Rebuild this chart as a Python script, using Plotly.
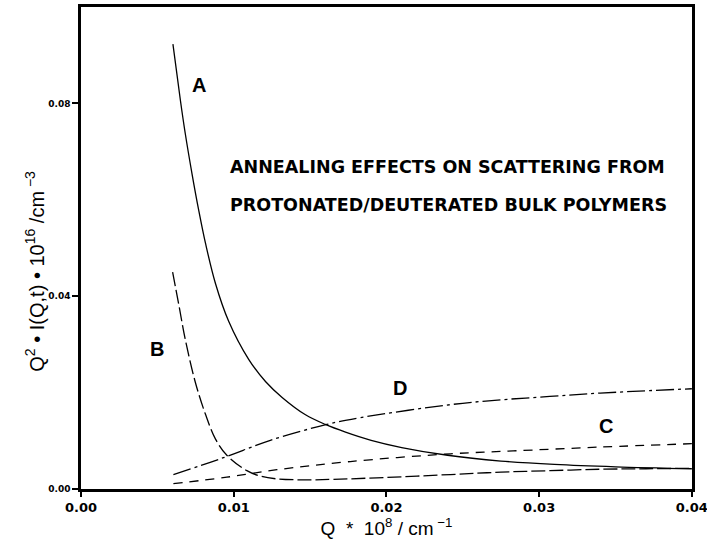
import plotly.graph_objects as go

# ---- data ----
a_x = [0.00602, 0.00651, 0.00683, 0.00727, 0.00771, 0.00815, 0.00880, 0.00967, 0.01098,
       0.01208, 0.01317, 0.0147, 0.0160, 0.01732, 0.0190, 0.0210, 0.0240, 0.0275,
       0.0310, 0.0350, 0.0400]
a_y = [0.0923, 0.0806, 0.0737, 0.0654, 0.0578, 0.0510, 0.0427, 0.0348, 0.0269,
       0.0223, 0.0190, 0.0154, 0.0134, 0.0118, 0.0101, 0.0086, 0.0070, 0.0058,
       0.0051, 0.0046, 0.0042]

b_x = [0.0060, 0.0064, 0.00683, 0.00749, 0.00815, 0.0088, 0.00955, 0.01086, 0.01172,
       0.01282, 0.0145, 0.0165, 0.0200, 0.0242, 0.0275, 0.0307, 0.0340, 0.0370, 0.0400]
b_y = [0.0450, 0.0383, 0.0310, 0.0221, 0.0155, 0.0104, 0.0070, 0.0038, 0.0027,
       0.0021, 0.0019, 0.0020, 0.0024, 0.0030, 0.0035, 0.0038, 0.0041, 0.0042, 0.0043]

c_x = [0.00605, 0.00955, 0.01283, 0.01764, 0.0242, 0.0283, 0.0340, 0.0400]
c_y = [0.0011, 0.00245, 0.0040, 0.0057, 0.0073, 0.0079, 0.0087, 0.0094]

d_x = [0.00605, 0.00933, 0.0124, 0.0161, 0.01829, 0.0242, 0.0275, 0.0307, 0.0340, 0.0400]
d_y = [0.0030, 0.0065, 0.0101, 0.0134, 0.0148, 0.0175, 0.0185, 0.0192, 0.0199, 0.0208]

curve_labels = ["A", "B", "C", "D"]
label_x = [0.0077, 0.0050, 0.03435, 0.0209]
label_y = [0.0838, 0.0290, 0.0130, 0.0210]

x_ticks = [0.00, 0.01, 0.02, 0.03, 0.04]
x_tick_text = ["0.00", "0.01", "0.02", "0.03", "0.04"]
y_ticks = [0.00, 0.04, 0.08]
y_tick_text = ["0.00", "0.04", "0.08"]

title_lines = ["ANNEALING EFFECTS ON SCATTERING FROM",
               "PROTONATED/DEUTERATED BULK POLYMERS"]
title_y = [0.0668, 0.0589]
title_x = 0.00965

y_title = "Q<sup>2</sup> • I(Q,t) • 10<sup>16</sup> /cm<sup> −3</sup>"
x_title = "Q  *  10<sup>8</sup> / cm<sup> −1</sup>"

fig = go.Figure()
styles = [
    (a_x, a_y, "solid"),
    (b_x, b_y, "14px,4px"),
    (c_x, c_y, "9px,7px"),
    (d_x, d_y, "18px,4px,3px,4px"),
]
for (xs, ys, dash), name in zip(styles, curve_labels):
    fig.add_trace(go.Scatter(
        x=xs, y=ys, mode="lines", name=name, showlegend=False,
        line=dict(color="black", width=1.3, dash=dash, shape="spline", smoothing=1.0),
    ))

for t, lx, ly in zip(curve_labels, label_x, label_y):
    fig.add_annotation(x=lx, y=ly, text=t, showarrow=False,
                       font=dict(family="Liberation Sans", size=20, color="black", weight="bold"))

for t, ty in zip(title_lines, title_y):
    fig.add_annotation(x=title_x, y=ty, text=t, showarrow=False, xanchor="left",
                       font=dict(family="DejaVu Sans", size=17.5, color="black", weight="bold"))

# rotated y-axis title, placed like the reference
fig.add_annotation(xref="paper", yref="paper", x=-0.076, y=0.452, text=y_title,
                   textangle=-90, showarrow=False, xanchor="center", yanchor="middle",
                   font=dict(family="Liberation Sans", size=20, color="black"))

fig.update_layout(
    width=707, height=539,
    margin=dict(l=81, r=15, t=7, b=50, autoexpand=False),
    paper_bgcolor="white", plot_bgcolor="white",
    font=dict(family="Liberation Sans", color="black"),
)
fig.update_xaxes(
    range=[0, 0.04001], tickvals=x_ticks, ticktext=x_tick_text, automargin=False,
    showgrid=False, zeroline=False, showline=True, linecolor="black", linewidth=2.5,
    mirror=True, ticks="outside", ticklen=5, tickwidth=1.5, tickcolor="black",
    ticklabeloverflow="allow",
    tickfont=dict(family="DejaVu Sans", size=13, weight="bold"),
    title=dict(text=x_title, font=dict(family="Liberation Sans", size=19), standoff=0),
)
fig.update_yaxes(
    range=[0, 0.1], tickvals=y_ticks, ticktext=y_tick_text, automargin=False,
    showgrid=False, zeroline=False, showline=True, linecolor="black", linewidth=2.5,
    mirror=True, ticks="outside", ticklen=6, tickwidth=1.5, tickcolor="black",
    tickfont=dict(family="DejaVu Sans", size=9, weight="bold"),
)

fig.write_html("out.html")
